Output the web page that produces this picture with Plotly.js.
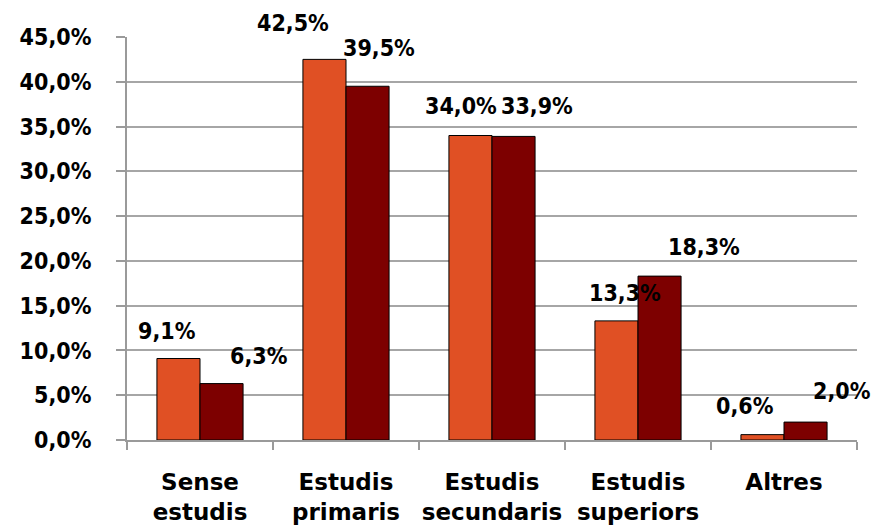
<!DOCTYPE html>
<html>
<head>
<meta charset="utf-8">
<script src="https://cdn.plot.ly/plotly-3.0.1.min.js"></script>
<style>
  html, body { margin: 0; padding: 0; background: #fff; }
  #chart { width: 885px; height: 526px; }
</style>
</head>
<body>
<div id="chart"></div>
<script>
// Nivell d'estudis: percentatge per categoria, dues sèries
const categories = ["Sense<br>estudis", "Estudis<br>primaris", "Estudis<br>secundaris", "Estudis<br>superiors", "Altres"];
const seriesA = [9.1, 42.5, 34.0, 13.3, 0.6];
const seriesB = [6.3, 39.5, 33.9, 18.3, 2.0];
const yTickVals = [0, 5, 10, 15, 20, 25, 30, 35, 40, 45];

const colorA = "#E05024";
const colorB = "#7D0000";

// Desplaçament (px) de cada etiqueta respecte del centre i el cim de la barra
const labelShiftA = [[-12, 28], [-32, 36], [-10, 30], [8, 28], [-18, 29]];
const labelShiftB = [[37, 28], [11, 38], [23, 30], [44, 29], [36, 31]];

const numFont = { family: "DejaVu Sans Condensed, DejaVu Sans, Arial", size: 23, color: "#000", weight: "bold" };
const catFont = { family: "DejaVu Sans, Arial", size: 23, color: "#000", weight: "bold" };

const fmt = v => v.toFixed(1).replace(".", ",") + "%";

const barLine = { color: "#000", width: 1 };
const traces = [
  { type: "bar", x: categories, y: seriesA, marker: { color: colorA, line: barLine }, hoverinfo: "none" },
  { type: "bar", x: categories, y: seriesB, marker: { color: colorB, line: barLine }, hoverinfo: "none" }
];

// Meitat de l'amplada del grup de barres, en px
const halfBar = 21.5;
const annotations = [];
categories.forEach((c, i) => {
  annotations.push({
    x: c, y: seriesA[i], xref: "x", yref: "y", text: fmt(seriesA[i]),
    showarrow: false, xanchor: "center", yanchor: "middle",
    xshift: -halfBar + labelShiftA[i][0], yshift: labelShiftA[i][1], font: numFont
  });
  annotations.push({
    x: c, y: seriesB[i], xref: "x", yref: "y", text: fmt(seriesB[i]),
    showarrow: false, xanchor: "center", yanchor: "middle",
    xshift: halfBar + labelShiftB[i][0], yshift: labelShiftB[i][1], font: numFont
  });
});

const layout = {
  width: 885, height: 526,
  margin: { l: 127, r: 28, t: 37, b: 86, pad: 0 },
  paper_bgcolor: "#fff", plot_bgcolor: "#fff",
  showlegend: false,
  barmode: "group",
  bargap: 0.41, bargroupgap: 0,
  xaxis: {
    type: "category",
    range: [-0.5, categories.length - 0.5],
    tickson: "boundaries",
    tickangle: 0,
    automargin: false,
    ticks: "outside", ticklen: 8, tickwidth: 2, tickcolor: "#9a9a9a",
    showline: true, linecolor: "#9a9a9a", linewidth: 2,
    showgrid: false,
    tickfont: catFont,
    ticklabelstandoff: 20,
    fixedrange: true
  },
  yaxis: {
    range: [0, 45],
    tickvals: yTickVals,
    ticktext: yTickVals.map(v => v.toFixed(1).replace(".", ",") + "%"),
    ticks: "outside", ticklen: 9, tickwidth: 2, tickcolor: "#9a9a9a",
    showline: true, linecolor: "#9a9a9a", linewidth: 2,
    showgrid: true, gridcolor: "#a6a6a6", gridwidth: 2,
    zeroline: false,
    automargin: false,
    tickfont: numFont,
    ticklabelstandoff: 20,
    fixedrange: true
  },
  annotations: annotations
};

Plotly.newPlot("chart", traces, layout, { staticPlot: true, displayModeBar: false });
</script>
</body>
</html>
